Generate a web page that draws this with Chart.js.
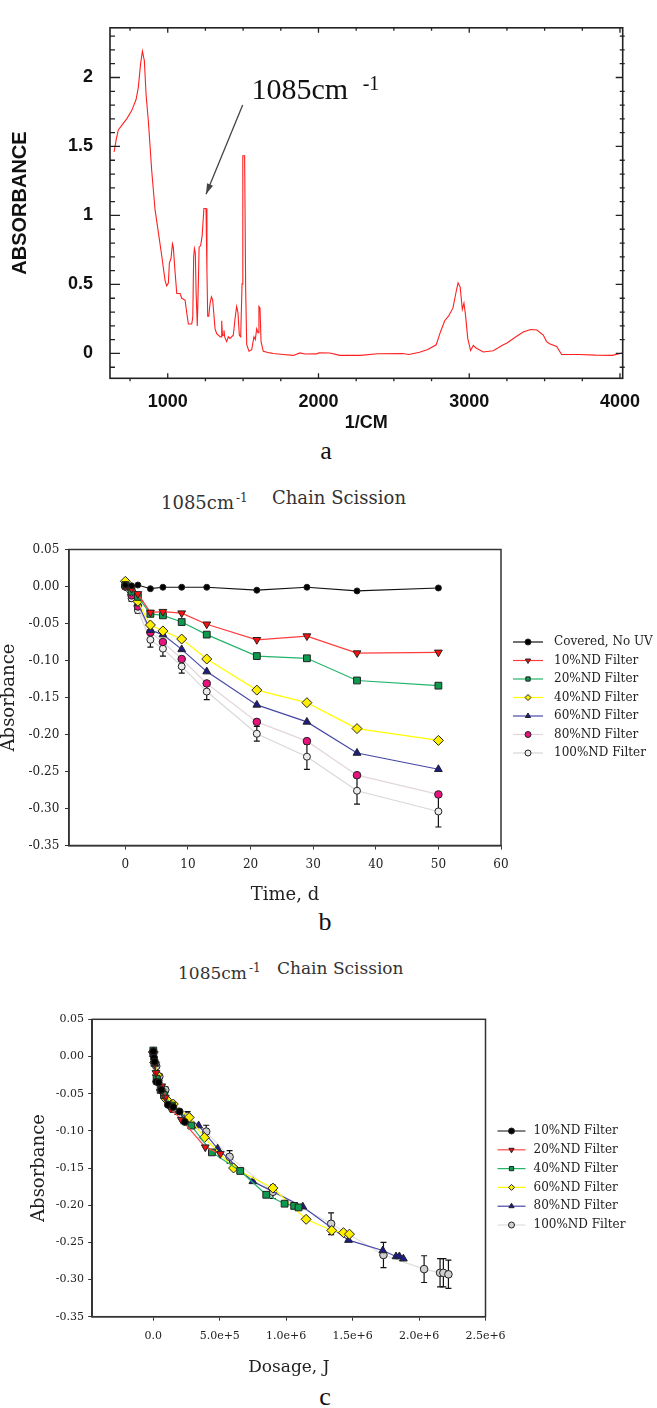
<!DOCTYPE html>
<html>
<head>
<meta charset="utf-8">
<script src="https://cdn.jsdelivr.net/npm/chart.js@4.4.1/dist/chart.umd.min.js"></script>
<style>
  body { margin: 0; background: #fff; width: 657px; height: 1408px; position: relative; overflow: hidden; }
  canvas { position: absolute; left: 0; }
  .cap { position: absolute; width: 40px; text-align: center; font: 26px/26px 'Liberation Serif', serif; color: #111; }
  .ttl { position: absolute; white-space: nowrap; font-family: 'DejaVu Serif', serif; color: #333; line-height: 18px; }
  .ttl sup { font-size: 12px; vertical-align: 7px; margin-left: 2px; }
</style>
</head>
<body>
<canvas id="specChart" width="657" height="434" style="top:0"></canvas>
<div class="cap" style="left:306px; top:438px">a</div>

<div class="ttl" style="left:161px; top:489px; font-size:18px">1085cm<sup>-1</sup></div>
<div class="ttl" style="left:272px; top:489px; font-size:18px">Chain Scission</div>
<canvas id="timeChart" width="657" height="386" style="top:520px"></canvas>
<div class="cap" style="left:305px; top:909px">b</div>

<div class="ttl" style="left:178px; top:959px; font-size:17px">1085cm<sup>-1</sup></div>
<div class="ttl" style="left:277px; top:959px; font-size:17px">Chain Scission</div>
<canvas id="doseChart" width="657" height="388" style="top:990px"></canvas>
<div class="cap" style="left:305px; top:1384px">c</div>

<script>
// ---- a: FTIR spectrum
const wavenumber = [644, 660, 672, 700, 728, 761, 790, 805, 820, 832, 845, 856, 871, 894, 916, 944, 960, 982, 993,
  1004, 1011, 1022, 1031, 1037, 1048, 1060, 1082, 1093, 1115, 1126, 1137, 1159, 1166, 1172, 1177, 1183, 1188, 1196,
  1204, 1208, 1218, 1228, 1240, 1254, 1260, 1265, 1272, 1281, 1290, 1298, 1307, 1314, 1325, 1347, 1354, 1358, 1363,
  1368, 1373, 1378, 1382, 1391, 1402, 1413, 1435, 1446, 1457, 1466, 1475, 1484, 1493, 1498, 1510, 1517, 1524, 1539,
  1557, 1572, 1581, 1590, 1599, 1605, 1612, 1619, 1634, 1678, 1700, 1767, 1833, 1877, 1910, 1988, 2002, 2076, 2141,
  2209, 2280, 2391, 2558, 2600, 2670, 2725, 2781, 2809, 2837, 2864, 2892, 2915, 2926, 2940, 2954, 2965, 2976, 2990,
  3009, 3027, 3045, 3093, 3159, 3226, 3248, 3310, 3358, 3407, 3449, 3491, 3513, 3533, 3580, 3613, 3727, 3838, 3950, 4015];
const absorbance = [1.46, 1.56, 1.62, 1.66, 1.70, 1.76, 1.84, 1.93, 2.10, 2.19, 2.12, 1.88, 1.69, 1.32, 1.04, 0.83, 0.71, 0.53, 0.49,
  0.51, 0.655, 0.69, 0.794, 0.77, 0.60, 0.434, 0.434, 0.40, 0.387, 0.295, 0.213, 0.213, 0.26, 0.70, 0.76, 0.73, 0.45, 0.20,
  0.55, 0.77, 0.78, 0.85, 1.05, 1.05, 0.60, 0.27, 0.27, 0.364, 0.41, 0.388, 0.272, 0.178, 0.144, 0.121, 0.12, 0.237, 0.13,
  0.132, 0.167, 0.12, 0.109, 0.086, 0.121, 0.109, 0.132, 0.248, 0.341, 0.295, 0.132, 0.121, 0.504, 1.433, 1.433, 0.457, 0.063, 0.016,
  0.028, 0.121, 0.10, 0.178, 0.15, 0.341, 0.33, 0.086, 0.016, 0.004, 0.0, -0.007, -0.014, 0.004, -0.004, -0.003, 0.004, 0.003, -0.014,
  -0.013, -0.014, -0.002, 0.0, -0.007, 0.009, 0.028, 0.063, 0.156, 0.237, 0.272, 0.33, 0.458, 0.512, 0.481, 0.319, 0.365, 0.272, 0.109,
  0.021, 0.058, 0.040, 0.011, 0.02, 0.063, 0.074, 0.121, 0.155, 0.174, 0.170, 0.133, 0.086, 0.07, 0.05, -0.007, -0.007, -0.012, -0.014, 0.004];

// ---- b: absorbance vs time
const days = [0, 1, 2, 4, 6, 9, 13, 21, 29, 37, 50];
const covered = [0.002, 0.001, 0.002, -0.003, -0.001, -0.001, -0.001, -0.005, -0.001, -0.006, -0.002];
const nd10 = [0.000, -0.003, -0.010, -0.035, -0.034, -0.036, -0.051, -0.072, -0.067, -0.090, -0.089];
const nd20 = [0.002, -0.007, -0.014, -0.037, -0.039, -0.048, -0.065, -0.094, -0.097, -0.127, -0.134];
const nd40 = [0.007, -0.007, -0.020, -0.052, -0.060, -0.071, -0.098, -0.140, -0.157, -0.192, -0.208];
const nd60 = [0.003, -0.008, -0.023, -0.059, -0.065, -0.085, -0.115, -0.160, -0.183, -0.225, -0.247];
const nd80 = [0.000, -0.012, -0.027, -0.062, -0.075, -0.098, -0.131, -0.183, -0.209, -0.255, -0.281];
const nd100 = [0.000, -0.016, -0.032, -0.072, -0.084, -0.108, -0.142, -0.199, -0.230, -0.276, -0.304];
const err100 = [0.001, 0.004, 0.004, 0.010, 0.010, 0.009, 0.011, 0.010, 0.017, 0.018, 0.021];

// ---- c: absorbance vs dosage
const dose10 = [0, 5000, 10000, 22000, 40000, 60000, 110000, 150000, 198000, 237000];
const abs10 = [0.007, -0.002, -0.007, -0.034, -0.035, -0.045, -0.065, -0.068, -0.074, -0.088];
const dose20 = [0, 10000, 20000, 30000, 63000, 90000, 130000, 211000, 391000, 504000];
const abs20 = [0.004, -0.010, -0.022, -0.034, -0.040, -0.055, -0.070, -0.085, -0.122, -0.131];
const dose40 = [0, 8000, 25000, 55000, 80000, 140000, 286000, 441000, 654000, 850000, 988000, 1060000, 1093000];
const abs40 = [0.008, -0.008, -0.030, -0.045, -0.052, -0.066, -0.093, -0.129, -0.154, -0.186, -0.198, -0.201, -0.203];
const dose60 = [0, 10000, 30000, 60000, 100000, 150000, 270000, 384000, 604000, 900000, 1150000, 1343000, 1431000, 1476000];
const abs60 = [0.006, -0.008, -0.025, -0.045, -0.058, -0.064, -0.082, -0.109, -0.150, -0.177, -0.219, -0.234, -0.237, -0.239];
const dose80 = [0, 12000, 38000, 75000, 110000, 190000, 341000, 484000, 749000, 1125000, 1469000, 1727000, 1827000, 1852000, 1882000];
const abs80 = [0.003, -0.010, -0.030, -0.047, -0.058, -0.075, -0.093, -0.124, -0.168, -0.202, -0.247, -0.261, -0.269, -0.269, -0.272];
const dose100 = [0, 22000, 45000, 90000, 153000, 258000, 398000, 574000, 900000, 1338000, 1732000, 2038000, 2158000, 2183000, 2221000];
const abs100 = [0.004, -0.013, -0.027, -0.045, -0.070, -0.080, -0.101, -0.135, -0.182, -0.225, -0.267, -0.286, -0.291, -0.291, -0.293];
const errDose100 = [0, 0.002, 0.003, 0.004, 0.005, 0.006, 0.0085, 0.0085, 0.009, 0.0146, 0.017, 0.018, 0.019, 0.019, 0.019];
const doseTicks = [0, 500000, 1000000, 1500000, 2000000, 2500000];

const SANS = "'Liberation Sans', Arial, sans-serif";
const SERIF = "'DejaVu Serif', serif";

const pts = (xs, ys) => xs.map((x, i) => ({x: x, y: ys[i]}));

// inward ticks + full frame for the spectrum
const specFrame = {
  id: 'specFrame',
  afterDraw(chart) {
    const {ctx, chartArea: a, scales: {x, y}} = chart;
    ctx.save();
    ctx.strokeStyle = '#222';
    ctx.lineWidth = 1.6;
    ctx.strokeRect(a.left, a.top, a.right - a.left, a.bottom - a.top);
    ctx.lineWidth = 1.3;
    ctx.beginPath();
    x.ticks.forEach(t => {
      const px = x.getPixelForValue(t.value);
      const major = t.value % 1000 === 0;
      ctx.moveTo(px, a.bottom + (major ? 0 : 3));
      ctx.lineTo(px, a.bottom - (major ? 5 : 0));
      ctx.moveTo(px, a.top);
      ctx.lineTo(px, a.top + (major ? 5 : 3));
    });
    y.ticks.forEach(t => {
      const py = y.getPixelForValue(t.value);
      const major = Math.round(t.value * 10) % 5 === 0;
      ctx.moveTo(a.left, py);
      ctx.lineTo(a.left + (major ? 10 : 5), py);
      ctx.moveTo(a.right + (major ? 0 : 2), py);
      ctx.lineTo(a.right - (major ? 7 : 3), py);
    });
    ctx.stroke();
    ctx.restore();
  }
};

// "1085cm-1" label with arrow to the peak
const peakNote = {
  id: 'peakNote',
  afterDatasetsDraw(chart) {
    const {ctx, scales: {x, y}} = chart;
    const x1 = x.getPixelForValue(1497), y1 = y.getPixelForValue(1.80);
    const x2 = x.getPixelForValue(1254), y2 = y.getPixelForValue(1.154);
    ctx.save();
    ctx.strokeStyle = '#444';
    ctx.fillStyle = '#444';
    ctx.lineWidth = 1.3;
    ctx.beginPath();
    ctx.moveTo(x1, y1);
    ctx.lineTo(x2, y2);
    ctx.stroke();
    const ang = Math.atan2(y2 - y1, x2 - x1);
    ctx.beginPath();
    ctx.moveTo(x2, y2);
    ctx.lineTo(x2 - 11 * Math.cos(ang - 0.3), y2 - 11 * Math.sin(ang - 0.3));
    ctx.lineTo(x2 - 11 * Math.cos(ang + 0.3), y2 - 11 * Math.sin(ang + 0.3));
    ctx.closePath();
    ctx.fill();
    ctx.fillStyle = '#111';
    ctx.font = "30px 'Liberation Serif', serif";
    ctx.fillText('1085cm', x.getPixelForValue(1556), y.getPixelForValue(1.842));
    ctx.font = "20px 'Liberation Serif', serif";
    ctx.fillText('-1', x.getPixelForValue(2293), y.getPixelForValue(1.911));
    ctx.restore();
  }
};

new Chart(document.getElementById('specChart'), {
  type: 'line',
  data: {
    datasets: [{
      data: pts(wavenumber, absorbance),
      borderColor: '#ff1f1f',
      borderWidth: 1.1,
      pointRadius: 0,
      tension: 0
    }]
  },
  options: {
    responsive: false,
    animation: false,
    layout: { padding: { left: 0, right: 34.3, top: 14, bottom: 0 } },
    plugins: { legend: { display: false }, tooltip: { enabled: false } },
    scales: {
      x: {
        type: 'linear', min: 617, max: 4018,
        afterFit: s => { s.height = 55.7; },
        grid: { display: false, drawTicks: false },
        border: { display: false },
        ticks: {
          stepSize: 250, includeBounds: false, autoSkip: false, maxRotation: 0, padding: 12.6,
          color: '#111', font: { family: SANS, size: 18, weight: 'bold' },
          callback: v => (v % 1000 === 0 ? String(v) : '')
        },
        title: { display: true, text: '1/CM', color: '#111', padding: 0, font: { family: SANS, size: 18, weight: 'bold' } }
      },
      y: {
        min: -0.18, max: 2.36,
        afterFit: s => { s.width = 110; },
        grid: { display: false, drawTicks: false },
        border: { display: false },
        ticks: {
          stepSize: 0.1, includeBounds: false, autoSkip: false, padding: 17,
          color: '#111', font: { family: SANS, size: 18, weight: 'bold' },
          callback: v => (Math.round(v * 10) % 5 === 0 ? String(Math.round(v * 10) / 10) : '')
        },
        title: { display: true, text: 'ABSORBANCE', color: '#111', padding: { top: 8, bottom: 0 }, font: { family: SANS, size: 20, weight: 'bold' } }
      }
    }
  },
  plugins: [specFrame, peakNote]
});

// shared pieces for b and c
const boxFrame = {
  id: 'boxFrame',
  afterDraw(chart) {
    const {ctx, chartArea: a} = chart;
    ctx.save();
    ctx.strokeStyle = '#333';
    ctx.lineWidth = 1.5;
    ctx.strokeRect(a.left, a.top, a.right - a.left, a.bottom - a.top);
    ctx.restore();
  }
};

const errorBars = {
  id: 'errorBars',
  beforeDatasetsDraw(chart) {
    const {ctx, scales: {y}} = chart;
    ctx.save();
    ctx.strokeStyle = '#111';
    ctx.lineWidth = 1.2;
    chart.data.datasets.forEach((ds, i) => {
      if (!ds.errors) return;
      chart.getDatasetMeta(i).data.forEach((pt, j) => {
        const e = ds.errors[j];
        if (!e) return;
        const v = ds.data[j].y;
        const ya = y.getPixelForValue(v + e), yb = y.getPixelForValue(v - e);
        ctx.beginPath();
        ctx.moveTo(pt.x, ya); ctx.lineTo(pt.x, yb);
        ctx.moveTo(pt.x - 3, ya); ctx.lineTo(pt.x + 3, ya);
        ctx.moveTo(pt.x - 3, yb); ctx.lineTo(pt.x + 3, yb);
        ctx.stroke();
      });
    });
    ctx.restore();
  }
};

const sideLegend = {
  id: 'sideLegend',
  afterDraw(chart, args, o) {
    const {ctx, chartArea: a} = chart;
    const sets = chart.data.datasets;
    const top = (a.top + a.bottom) / 2 - (sets.length - 1) * o.row / 2 + o.dy;
    const x0 = a.right + o.gap;
    ctx.save();
    ctx.font = o.font;
    ctx.textBaseline = 'middle';
    sets.forEach((ds, i) => {
      const yy = top + i * o.row;
      ctx.strokeStyle = ds.borderColor;
      ctx.lineWidth = ds.borderWidth;
      ctx.beginPath();
      ctx.moveTo(x0, yy);
      ctx.lineTo(x0 + o.line, yy);
      ctx.stroke();
      ctx.fillStyle = ds.pointBackgroundColor;
      ctx.strokeStyle = ds.pointBorderColor;
      ctx.lineWidth = 1;
      Chart.helpers.drawPoint(ctx, { pointStyle: ds.pointStyle, rotation: ds.pointRotation || 0, radius: o.radius, borderWidth: 1 }, x0 + o.line / 2, yy);
      ctx.fillStyle = '#222';
      ctx.fillText(ds.label, x0 + o.line + o.text, yy);
    });
    ctx.restore();
  }
};

function series(label, data, line, fill, style, radius, extra) {
  return Object.assign({
    label: label,
    data: data,
    borderColor: line,
    borderWidth: 1.2,
    pointBackgroundColor: fill,
    pointBorderColor: '#222',
    pointBorderWidth: 1,
    pointStyle: style,
    pointRadius: radius,
    tension: 0
  }, extra || {});
}

function axes(xOpts, yOpts, sizes) {
  const tickGrid = { drawOnChartArea: false, drawTicks: true, tickLength: 4, color: '#333' };
  return {
    x: Object.assign({
      type: 'linear',
      afterFit: s => { s.height = sizes.xh; },
      grid: tickGrid,
      border: { color: '#333', width: 1.5 }
    }, xOpts),
    y: Object.assign({
      afterFit: s => { s.width = sizes.yw; },
      grid: tickGrid,
      border: { color: '#333', width: 1.5 }
    }, yOpts)
  };
}

// ---- b
new Chart(document.getElementById('timeChart'), {
  type: 'line',
  data: {
    datasets: [
      series('Covered, No UV', pts(days, covered), '#111', '#000', 'circle', 3),
      series('10%ND Filter', pts(days, nd10), '#ff3c3c', '#ff1010', 'triangle', 4.5, { pointRotation: 180 }),
      series('20%ND Filter', pts(days, nd20), '#22b46a', '#0e9a4e', 'rect', 4.8),
      series('40%ND Filter', pts(days, nd40), '#ffff00', '#ffee00', 'rectRot', 5),
      series('60%ND Filter', pts(days, nd60), '#4848a8', '#1c1c86', 'triangle', 4.5),
      series('80%ND Filter', pts(days, nd80), '#e2d6dc', '#e8127f', 'circle', 3.8),
      series('100%ND Filter', pts(days, nd100), '#d8d8d8', '#ededed', 'circle', 3.5, { errors: err100 })
    ]
  },
  options: {
    responsive: false,
    animation: false,
    layout: { padding: { left: 0, right: 156, top: 29.5, bottom: 0 } },
    plugins: {
      legend: { display: false },
      tooltip: { enabled: false },
      sideLegend: { gap: 12, line: 30, text: 11, row: 18.5, dy: 0, radius: 3, font: '12px ' + SERIF }
    },
    scales: axes({
      min: -9, max: 60,
      ticks: { stepSize: 10, includeBounds: false, padding: 8.3, color: '#222', font: { family: SERIF, size: 12 } },
      title: { display: true, text: 'Time, d', color: '#222', padding: 0, font: { family: SERIF, size: 18 } }
    }, {
      min: -0.35, max: 0.05,
      ticks: { stepSize: 0.05, padding: 5.7, color: '#222', font: { family: SERIF, size: 12 }, callback: v => v.toFixed(2) },
      title: { display: true, text: 'Absorbance', color: '#222', padding: 0, font: { family: SERIF, size: 18, lineHeight: 1 } }
    }, { xh: 60.5, yw: 69 })
  },
  plugins: [boxFrame, errorBars, sideLegend]
});

// ---- c
new Chart(document.getElementById('doseChart'), {
  type: 'line',
  data: {
    datasets: [
      series('10%ND Filter', pts(dose10, abs10), '#333', '#000', 'circle', 3.5),
      series('20%ND Filter', pts(dose20, abs20), '#ff4646', '#ee1010', 'triangle', 4.5, { pointRotation: 180 }),
      series('40%ND Filter', pts(dose40, abs40), '#22b46a', '#0e9a4e', 'rect', 4.8),
      series('60%ND Filter', pts(dose60, abs60), '#ffff00', '#ffee00', 'rectRot', 5),
      series('80%ND Filter', pts(dose80, abs80), '#4848a8', '#1c1c86', 'triangle', 4.5),
      series('100%ND Filter', pts(dose100, abs100), '#dedede', '#cfcfcf', 'circle', 3.8, { errors: errDose100 })
    ]
  },
  options: {
    responsive: false,
    animation: false,
    layout: { padding: { left: 0, right: 171.5, top: 29.3, bottom: 0 } },
    plugins: {
      legend: { display: false },
      tooltip: { enabled: false },
      sideLegend: { gap: 12, line: 28, text: 8, row: 18.8, dy: 10, radius: 3, font: '12px ' + SERIF }
    },
    scales: axes({
      min: -460000, max: 2500000,
      afterBuildTicks: s => { s.ticks = doseTicks.map(v => ({ value: v })); },
      ticks: {
        padding: 8.8, color: '#222', font: { family: SERIF, size: 11 },
        callback: v => (v === 0 ? '0.0' : v.toExponential(1))
      },
      title: { display: true, text: 'Dosage, J', color: '#222', padding: 0, font: { family: SERIF, size: 17 } }
    }, {
      min: -0.35, max: 0.05,
      ticks: { stepSize: 0.05, padding: 4.3, color: '#222', font: { family: SERIF, size: 11 }, callback: v => v.toFixed(2) },
      title: { display: true, text: 'Absorbance', color: '#222', padding: { top: 30, bottom: 0 }, font: { family: SERIF, size: 18, lineHeight: 1 } }
    }, { xh: 61.3, yw: 92.2 })
  },
  plugins: [boxFrame, errorBars, sideLegend]
});
</script>
</body>
</html>
